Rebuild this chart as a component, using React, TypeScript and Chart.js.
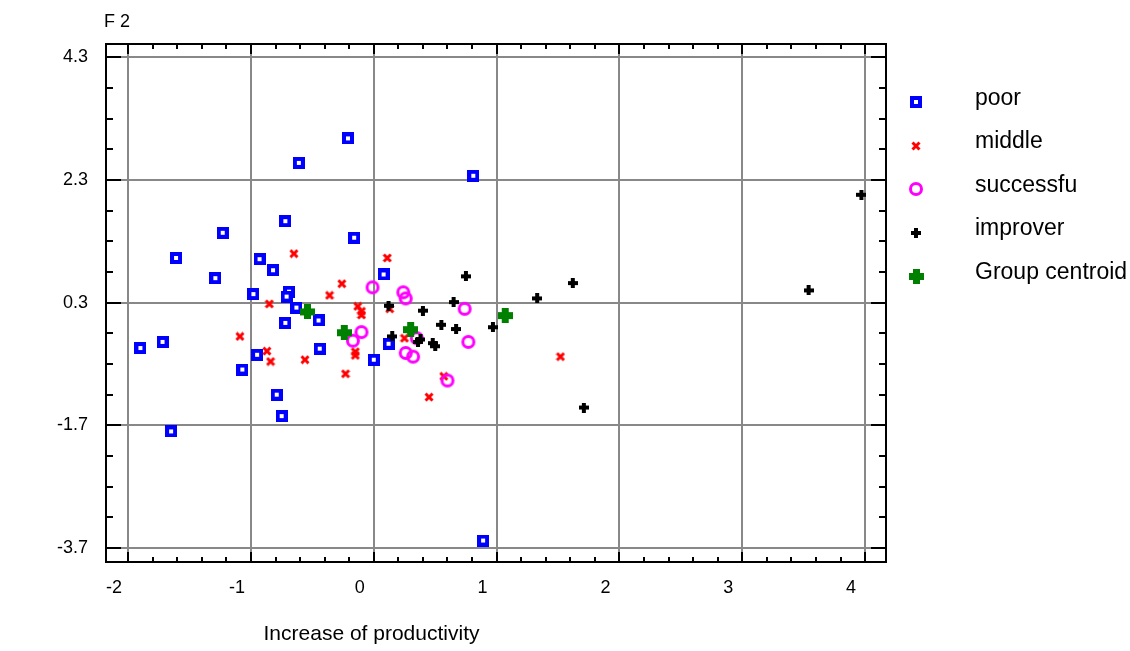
import React, { useEffect, useRef } from "react";
import { Chart, registerables } from "chart.js";

Chart.register(...registerables);

// ---- data ----
const seriesNames = ["poor", "middle", "successfu", "improver", "Group centroid"];

const poorX = [-0.21, -0.61, 0.81, -0.72, -1.23, -0.16, -1.61, -0.93, -0.82, -1.29, 0.08, -0.98, -0.69, -0.71, -0.63, -0.45, -0.72, -1.9, -1.72, -0.95, -0.44, 0.12, -1.07, 0.0, -0.79, -0.75, -1.65, 0.89];
const poorY = [2.98, 2.58, 2.37, 1.63, 1.44, 1.36, 1.03, 1.01, 0.83, 0.7, 0.76, 0.44, 0.48, 0.4, 0.22, 0.01, -0.03, -0.44, -0.34, -0.55, -0.45, -0.37, -0.79, -0.63, -1.2, -1.55, -1.8, -3.58];

const middleX = [-0.65, 0.11, -0.26, -0.36, -0.85, -0.13, -0.1, -0.1, 0.13, -1.09, -0.87, -0.84, -0.56, -0.15, -0.15, -0.23, 0.25, 0.57, 0.45, 1.52];
const middleY = [1.1, 1.03, 0.61, 0.42, 0.28, 0.24, 0.16, 0.1, 0.2, -0.25, -0.49, -0.66, -0.63, -0.5, -0.56, -0.86, -0.28, -0.9, -1.24, -0.58];

const successX = [-0.01, 0.24, 0.26, 0.74, -0.1, -0.17, 0.35, 0.26, 0.32, 0.6, 0.77];
const successY = [0.55, 0.47, 0.37, 0.2, -0.18, -0.32, -0.28, -0.52, -0.58, -0.97, -0.34];

const improverX = [0.12, 0.15, 0.4, 0.65, 0.75, 0.97, 0.55, 0.67, 0.38, 0.36, 0.48, 0.5, 1.62, 1.33, 1.71, 3.54, 3.97];
const improverY = [0.25, -0.25, 0.17, 0.31, 0.73, -0.1, -0.06, -0.13, -0.3, -0.34, -0.36, -0.41, 0.62, 0.37, -1.41, 0.5, 2.06];

const centroidX = [-0.54, -0.24, 0.3, 1.07];
const centroidY = [0.15, -0.19, -0.14, 0.09];

const xTickValues = [-2, -1, 0, 1, 2, 3, 4];
const yTickValues = [-3.7, -1.7, 0.3, 2.3, 4.3];
const xMinorStep = 0.2;
const yMinorStep = 0.5;

const xAxisTitle = "Increase of productivity";
const yAxisTitle = "F 2";

const FONT = "'Liberation Sans', Arial, sans-serif";

function makeMarker(kind: string): HTMLCanvasElement {
  const c = document.createElement("canvas");
  const g = c.getContext("2d")!;
  if (kind === "square") {
    c.width = c.height = 12;
    g.fillStyle = "#0000ff";
    g.fillRect(0, 0, 12, 12);
    g.fillStyle = "#ffffff";
    g.fillRect(4, 4, 4, 4);
  } else if (kind === "x") {
    c.width = c.height = 10;
    g.strokeStyle = "#ff0000";
    g.lineWidth = 3;
    g.beginPath();
    g.moveTo(1.5, 1.5);
    g.lineTo(8.5, 8.5);
    g.moveTo(8.5, 1.5);
    g.lineTo(1.5, 8.5);
    g.stroke();
  } else if (kind === "ring") {
    c.width = c.height = 16;
    g.strokeStyle = "#ff00ff";
    g.lineWidth = 3;
    g.beginPath();
    g.arc(8, 8, 5.5, 0, Math.PI * 2);
    g.stroke();
  } else if (kind === "plus") {
    c.width = c.height = 10;
    g.fillStyle = "#000000";
    g.fillRect(0, 3, 10, 4);
    g.fillRect(3, 0, 4, 10);
  } else {
    c.width = c.height = 15;
    g.fillStyle = "#008000";
    g.fillRect(0, 4, 15, 7);
    g.fillRect(4, 0, 7, 15);
  }
  return c;
}

function pts(xs: number[], ys: number[]) {
  return xs.map((x, i) => ({ x, y: ys[i] }));
}

export default function App() {
  const ref = useRef<HTMLCanvasElement>(null);

  useEffect(() => {
    const markers = [makeMarker("square"), makeMarker("x"), makeMarker("ring"), makeMarker("plus"), makeMarker("bigplus")];
    const seriesData = [
      pts(poorX, poorY),
      pts(middleX, middleY),
      pts(successX, successY),
      pts(improverX, improverY),
      pts(centroidX, centroidY),
    ];

    const framePlugin = {
      id: "frameTicks",
      beforeDatasetsDraw(chart: any) {
        const { ctx, chartArea } = chart;
        const { left, right, top, bottom } = chartArea;
        const xs = chart.scales.x;
        const ys = chart.scales.y;
        ctx.save();
        ctx.strokeStyle = "#000";
        ctx.lineWidth = 2;
        ctx.beginPath();
        const xmin = xs.min, xmax = xs.max;
        for (let k = -20; k <= 40; k++) {
          const v = Math.round((xTickValues[0] + k * xMinorStep) * 1000) / 1000;
          if (v < xmin || v > xmax) continue;
          const major = xTickValues.some((t) => Math.abs(t - v) < 1e-6);
          const len = major ? 10 : 5;
          const px = Math.round(xs.getPixelForValue(v));
          ctx.moveTo(px, top);
          ctx.lineTo(px, top + len);
          ctx.moveTo(px, bottom);
          ctx.lineTo(px, bottom - len);
        }
        const ymin = ys.min, ymax = ys.max;
        for (let k = -10; k <= 30; k++) {
          const v = Math.round((yTickValues[0] + k * yMinorStep) * 1000) / 1000;
          if (v < ymin || v > ymax) continue;
          const major = yTickValues.some((t) => Math.abs(t - v) < 1e-6);
          const len = major ? 15 : 7;
          const py = Math.round(ys.getPixelForValue(v));
          ctx.moveTo(left, py);
          ctx.lineTo(left + len, py);
          ctx.moveTo(right, py);
          ctx.lineTo(right - len, py);
        }
        ctx.stroke();
        ctx.strokeRect(left, top, right - left, bottom - top);
        ctx.restore();
      },
      afterDraw(chart: any) {
        const { ctx, chartArea } = chart;
        ctx.save();
        ctx.fillStyle = "#000";
        ctx.textAlign = "left";
        ctx.textBaseline = "alphabetic";
        ctx.font = `18px ${FONT}`;
        ctx.fillText(yAxisTitle, chartArea.left - 2, 27);
        ctx.font = `21px ${FONT}`;
        ctx.textAlign = "center";
        ctx.fillText(xAxisTitle, chartArea.left + 265.5, 640);
        ctx.font = `23px ${FONT}`;
        ctx.textAlign = "left";
        const mx = chartArea.right + 30;
        const tx = chartArea.right + 89;
        seriesNames.forEach((name, i) => {
          const my = chartArea.top + 58 + i * 43.5;
          const m = markers[i];
          ctx.drawImage(m, Math.round(mx - m.width / 2), Math.round(my - m.height / 2));
          ctx.fillText(name, tx, my + 2.5);
        });
        ctx.restore();
      },
    };

    const chart = new Chart(ref.current!, {
      type: "scatter",
      data: {
        datasets: seriesNames.map((name, i) => ({
          label: name,
          data: seriesData[i],
          pointStyle: markers[i] as any,
          pointRadius: 6,
          pointHoverRadius: 6,
          order: 4 - i,
          showLine: false,
        })),
      },
      options: {
        animation: false,
        responsive: false,
        devicePixelRatio: 1,
        events: [],
        layout: { padding: { left: 0, top: 44, right: 244, bottom: 0 } },
        plugins: { legend: { display: false }, tooltip: { enabled: false }, title: { display: false } },
        scales: {
          x: {
            type: "linear",
            min: -2.18,
            max: 4.17,
            afterBuildTicks: (s: any) => {
              s.ticks = xTickValues.map((v) => ({ value: v }));
            },
            afterFit: (s: any) => {
              s.height = 89;
            },
            ticks: {
              autoSkip: false,
              maxRotation: 0,
              minRotation: 0,
              labelOffset: -14,
              padding: 15,
              color: "#000",
              font: { family: FONT, size: 18 },
              callback: (v: any) => String(v),
            },
            grid: { color: "#888888", lineWidth: 2, drawTicks: false },
            border: { display: false },
          },
          y: {
            type: "linear",
            min: -3.93,
            max: 4.52,
            afterBuildTicks: (s: any) => {
              s.ticks = yTickValues.map((v) => ({ value: v }));
            },
            afterFit: (s: any) => {
              s.width = 106;
            },
            ticks: {
              autoSkip: false,
              padding: 18,
              color: "#000",
              font: { family: FONT, size: 18 },
              callback: (v: any) => Number(v).toFixed(1),
            },
            grid: { color: "#888888", lineWidth: 2, drawTicks: false },
            border: { display: false },
          },
        },
      },
      plugins: [framePlugin],
    } as any);
    return () => chart.destroy();
  }, []);

  return (
    <div style={{ position: "fixed", left: 0, top: 0, width: 1130, height: 651, background: "#fff" }}>
      <canvas ref={ref} width={1130} height={651} style={{ width: 1130, height: 651, display: "block" }} />
    </div>
  );
}
